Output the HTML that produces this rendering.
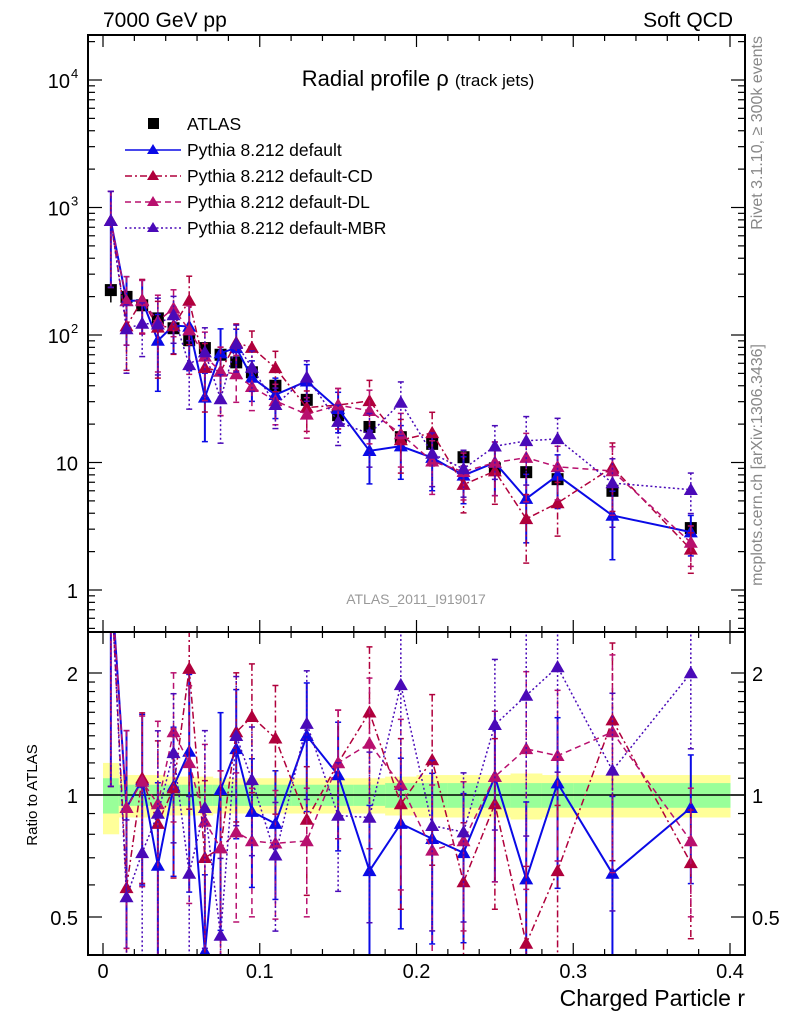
<!DOCTYPE html>
<html><head><meta charset="utf-8"><style>
html,body{margin:0;padding:0;background:#fff;width:786px;height:1024px;overflow:hidden;}
svg{display:block;font-family:"Liberation Sans",sans-serif;}
</style></head><body>
<svg id="c" width="786" height="1024" viewBox="0 0 786 1024" xmlns="http://www.w3.org/2000/svg" overflow="hidden"></svg>
<script>
const xVals=[0.005,0.015,0.025,0.035,0.045,0.055,0.065,0.075,0.085,0.095,0.11,0.13,0.15,0.17,0.19,0.21,0.23,0.25,0.27,0.29,0.325,0.375];
const binEdges=[0,0.01,0.02,0.03,0.04,0.05,0.06,0.07,0.08,0.09,0.1,0.12,0.14,0.16,0.18,0.2,0.22,0.24,0.26,0.28,0.3,0.35,0.4];
const atlas=[225,199,171,135,113,91,79,70,61,51,40,31,23.5,19,15.8,14,11,9,8.4,7.4,6,3.06];
const atlasTotErr=[0.2,0.12,0.12,0.12,0.11,0.11,0.11,0.1,0.1,0.1,0.1,0.1,0.1,0.1,0.11,0.12,0.12,0.12,0.13,0.12,0.12,0.12];
const atlasStatErr=[0.1,0.06,0.06,0.06,0.06,0.06,0.06,0.06,0.06,0.06,0.06,0.06,0.06,0.06,0.07,0.07,0.07,0.07,0.07,0.07,0.07,0.07];
const ratioDefault=[3.5,0.93,1.09,0.67,1.05,1.28,0.41,1.03,1.3,0.91,0.85,1.4,1.12,0.65,0.85,0.78,0.72,1.11,0.62,1.07,0.64,0.93];
const ratioCD=[3.5,0.59,1.1,0.85,1.04,2.05,0.7,0.74,1.43,1.56,1.38,0.87,1.2,1.6,0.95,1.22,0.61,0.95,0.43,0.65,1.53,0.68];
const ratioDL=[3.5,0.93,1.08,0.95,1.43,1.2,0.86,0.74,0.81,0.77,0.76,0.77,1.2,1.34,1.06,0.73,0.77,1.11,1.3,1.25,1.43,0.77];
const ratioMBR=[3.5,0.56,0.72,0.9,1.27,0.64,0.93,0.45,1.4,1.09,0.71,1.5,0.89,0.88,1.87,0.84,0.81,1.49,1.76,2.07,1.15,2.0];
const mcErr=[0.7,0.55,0.45,0.6,0.4,0.55,0.55,0.55,0.4,0.35,0.35,0.35,0.35,0.45,0.45,0.45,0.4,0.45,0.55,0.45,0.55,0.35];
const seriesNames=["Pythia 8.212 default","Pythia 8.212 default-CD","Pythia 8.212 default-DL","Pythia 8.212 default-MBR"];
const xTicks=[0,0.1,0.2,0.3,0.4];
const xTickLabels=["0","0.1","0.2","0.3","0.4"];

const NS="http://www.w3.org/2000/svg";
const svg=document.getElementById('c');
const L=88,R=745,T=35,MB=632,RB=955;
const X=v=>103+v*1567.5;
const YM=v=>590-Math.log10(v)*127.5;
const YR=v=>795-Math.log2(v)*122;
const clamp=(y,a,b)=>Math.max(a,Math.min(b,y));
function el(tag,attrs,parent){const e=document.createElementNS(NS,tag);for(const k in attrs)e.setAttribute(k,attrs[k]);(parent||svg).appendChild(e);return e;}
function txt(s,attrs,parent){const e=el('text',attrs,parent);e.textContent=s;return e;}

const defs=el('defs',{});
const c1=el('clipPath',{id:'cm'},defs);el('rect',{x:L,y:T,width:R-L,height:MB-T},c1);
const c2=el('clipPath',{id:'cr'},defs);el('rect',{x:L,y:MB,width:R-L,height:RB-MB},c2);

const gBand=el('g',{'clip-path':'url(#cr)'});


for(let i=0;i<xVals.length;i++){
  const x0=X(binEdges[i]),x1=X(binEdges[i+1]);
  el('rect',{x:x0,y:YR(1+atlasTotErr[i]),width:x1-x0+0.5,height:YR(1-atlasTotErr[i])-YR(1+atlasTotErr[i]),fill:'#ffff99'},gBand);
  el('rect',{x:x0,y:YR(1+atlasStatErr[i]),width:x1-x0+0.5,height:YR(1-atlasStatErr[i])-YR(1+atlasStatErr[i]),fill:'#99ff99'},gBand);
}
el('line',{x1:L,x2:R,y1:YR(1),y2:YR(1),stroke:'#000','stroke-width':1.5});

const styles=[
 {c:'#0a0ae6',d:'',w:2},
 {c:'#b0003c',d:'7,3,2,3',w:1.5},
 {c:'#b8106e',d:'6,4',w:1.5},
 {c:'#4a0ab8',d:'2,2.5',w:1.5}
];
const ratios=[ratioDefault,ratioCD,ratioDL,ratioMBR];
function tri(x,y,c,p,name){const s=7;const t=el('polygon',{points:`${x},${y-s} ${x-s},${y+s*0.75} ${x+s},${y+s*0.75}`,fill:c},p);}
function drawSeries(k,panel){
  const st=styles[k];
  const g=el('g',{'clip-path':panel==='m'?'url(#cm)':'url(#cr)'});
  
  
  const Y=panel==='m'?YM:YR;
  const top=panel==='m'?T:MB, bot=panel==='m'?MB:RB;
  const vals=xVals.map((x,i)=>panel==='m'?atlas[i]*ratios[k][i]:ratios[k][i]);
  el('polyline',{points:xVals.map((x,i)=>X(x)+','+Y(vals[i])).join(' '),fill:'none',stroke:st.c,'stroke-width':st.w,'stroke-dasharray':st.d},g);
  xVals.forEach((x,i)=>{
    const v=vals[i],e=mcErr[i];
    const lo=Math.max(v*(1-e),1e-3),hi=v*(1+e);
    const yh=clamp(Y(hi),top-2,bot+2), yl=clamp(Y(lo),top-2,bot+2);
    el('line',{x1:X(x),x2:X(x),y1:yh,y2:yl,stroke:st.c,'stroke-width':st.w,'stroke-dasharray':st.d},g);
    el('line',{x1:X(x)-3,x2:X(x)+3,y1:yh,y2:yh,stroke:st.c,'stroke-width':1.5},g);
    el('line',{x1:X(x)-3,x2:X(x)+3,y1:yl,y2:yl,stroke:st.c,'stroke-width':1.5},g);
    tri(X(x),Y(v),st.c,g,'marker-'+i);
  });
}
const ga=el('g',{'clip-path':'url(#cm)'});


xVals.forEach((x,i)=>{
  const v=atlas[i];
  el('line',{x1:X(x),x2:X(x),y1:YM(v*(1+atlasTotErr[i])),y2:YM(v*(1-atlasTotErr[i])),stroke:'#000','stroke-width':1.5},ga);
  const r=el('rect',{x:X(x)-6,y:YM(v)-6,width:12,height:12,fill:'#000'},ga);
  
  
});
for(let k=0;k<4;k++){drawSeries(k,'m');drawSeries(k,'r');}

el('rect',{x:L,y:T,width:R-L,height:MB-T,fill:'none',stroke:'#000','stroke-width':2});
el('rect',{x:L,y:MB,width:R-L,height:RB-MB,fill:'none',stroke:'#000','stroke-width':2});

for(let v=0;v<=0.4001;v+=0.02){
  const big=Math.abs(v*10-Math.round(v*10))<1e-6;const len=big?12:6;
  [MB,RB].forEach(yb=>{el('line',{x1:X(v),x2:X(v),y1:yb,y2:yb-len,stroke:'#000','stroke-width':1.2});});
  [T,MB].forEach(yt=>{el('line',{x1:X(v),x2:X(v),y1:yt,y2:yt+len,stroke:'#000','stroke-width':1.2});});
}
xTicks.forEach((v,i)=>{const t=txt(xTickLabels[i],{x:X(v),y:978,'font-size':20,'text-anchor':'middle'});});
const xt=txt('Charged Particle r',{x:745,y:1006,'font-size':23,'text-anchor':'end'});


for(let d=-1;d<=4;d++){for(let m=1;m<10;m++){const v=m*Math.pow(10,d);const y=YM(v);if(y<T||y>MB)continue;const len=m===1?14:7;
  el('line',{x1:L,x2:L+len,y1:y,y2:y,stroke:'#000','stroke-width':1.2});el('line',{x1:R,x2:R-len,y1:y,y2:y,stroke:'#000','stroke-width':1.2});}}
const ylab=[['1',1],['10',10],['10',100],['10',1000],['10',10000]];
const sup=[null,null,'2','3','4'];
ylab.forEach((a,i)=>{const y=YM(a[1])+8;const t=txt(a[0],{x:sup[i]?70:78,y:y,'font-size':20,'text-anchor':'end'});
 
 if(sup[i]){txt(sup[i],{x:71,y:y-10,'font-size':13});}});

[0.4,0.5,0.6,0.7,0.8,0.9,1,1.1,1.2,1.3,1.4,1.5,1.6,1.7,1.8,1.9,2].forEach(v=>{const y=YR(v);if(y<MB||y>RB)return;const big=(v===0.5||v===1||v===2);const len=big?14:7;
  el('line',{x1:L,x2:L+len,y1:y,y2:y,stroke:'#000','stroke-width':1.2});el('line',{x1:R,x2:R-len,y1:y,y2:y,stroke:'#000','stroke-width':1.2});});
[['2',2],['1',1],['0.5',0.5]].forEach(a=>{
  const t1=txt(a[0],{x:78,y:YR(a[1])+8,'font-size':20,'text-anchor':'end'});
  const t2=txt(a[0],{x:752,y:YR(a[1])+8,'font-size':20});});
const rl=txt('Ratio to ATLAS',{x:0,y:0,'font-size':15,'text-anchor':'middle',transform:'translate(37,795) rotate(-90)'});


const h1=txt('7000 GeV pp',{x:103,y:27,'font-size':21});
const h2=txt('Soft QCD',{x:733,y:27,'font-size':21,'text-anchor':'end'});
const tt=el('text',{x:418,y:86,'font-size':22,'text-anchor':'middle'});
tt.innerHTML='Radial profile ρ <tspan font-size="17">(track jets)</tspan>';
const ws=txt('ATLAS_2011_I919017',{x:416,y:604,'font-size':14,fill:'#999','text-anchor':'middle'});
const rv=txt('Rivet 3.1.10, ≥ 300k events',{x:0,y:0,'font-size':16,fill:'#888','text-anchor':'end',transform:'translate(762,36) rotate(-90)'});

const mp=txt('mcplots.cern.ch [arXiv:1306.3436]',{x:0,y:0,'font-size':16,fill:'#888','text-anchor':'end',transform:'translate(762,344) rotate(-90)'});


const lg=el('g',{});
const le0=el('g',{},lg);
el('rect',{x:148,y:118,width:11,height:11,fill:'#000'},le0);
txt('ATLAS',{x:187,y:130,'font-size':17.5},le0);
seriesNames.forEach((n,k)=>{const y=150+k*26;const st=styles[k];
  const g=el('g',{},lg);
  el('line',{x1:125,x2:181,y1:y,y2:y,stroke:st.c,'stroke-width':1.5,'stroke-dasharray':st.d},g);
  el('polygon',{points:`153,${y-6} 147,${y+4} 159,${y+4}`,fill:st.c},g);
  txt(n,{x:187,y:y+6,'font-size':17.5},g);});
</script>
</body></html>
